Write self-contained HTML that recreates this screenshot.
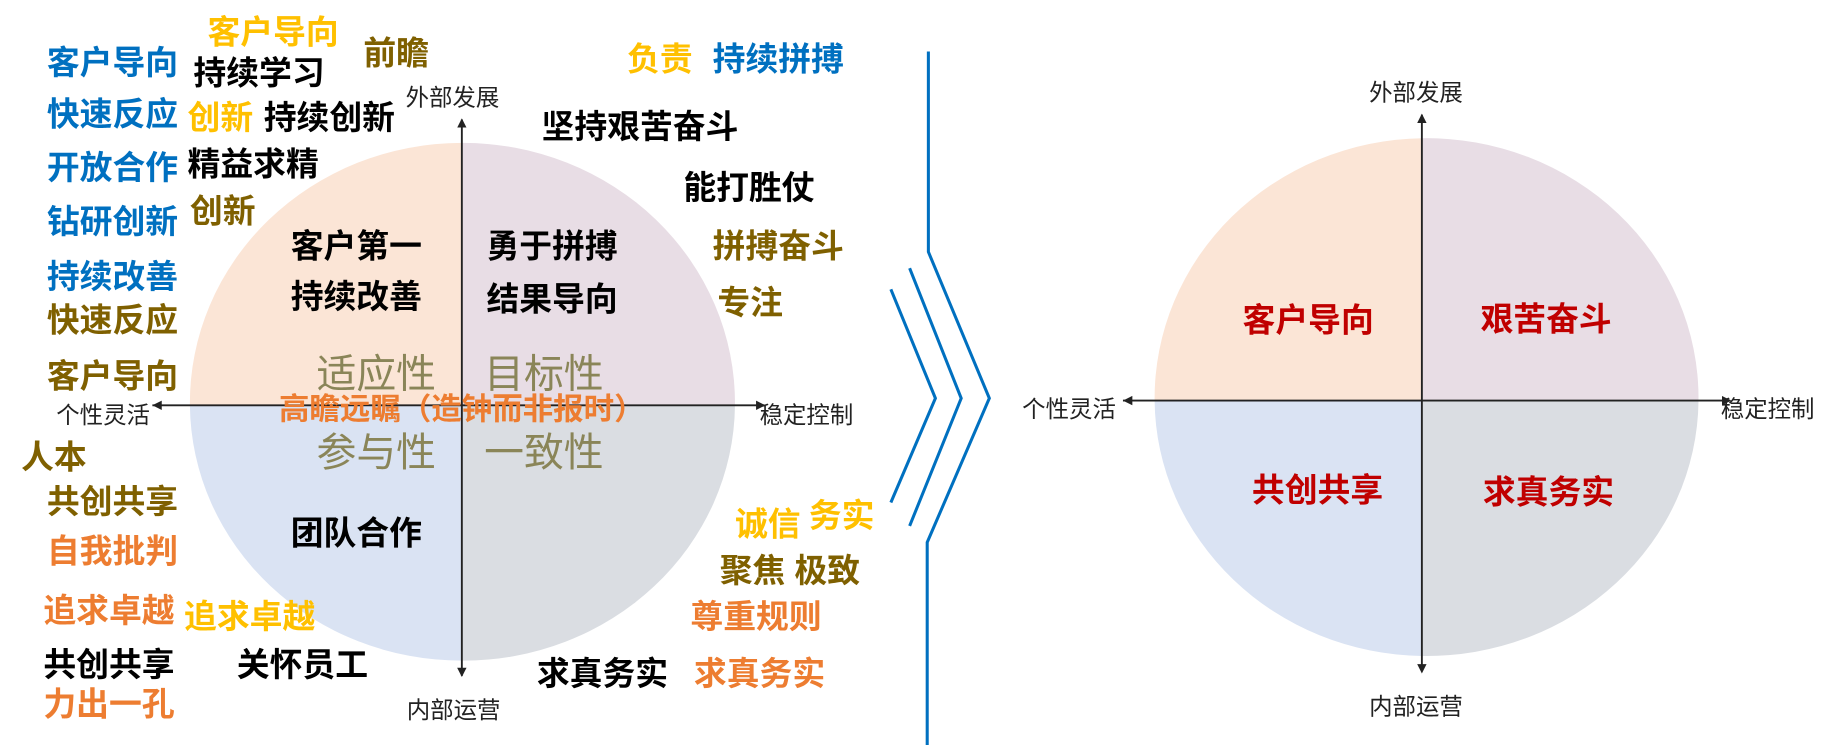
<!DOCTYPE html>
<html><head><meta charset="utf-8"><style>
html,body{margin:0;padding:0;background:#fff;}
svg{display:block;}
text{font-family:"Liberation Sans","Noto Sans CJK SC",sans-serif;}
.b{font-weight:bold;font-size:28px;}
.ax{font-size:20px;fill:#222;}
.big{font-size:34px;fill:#8a8558;}
.bl{fill:#0070C0}.gd{fill:#FFC000}.ol{fill:#7F6000}.k{fill:#000}.or{fill:#ED7D31}.rd{fill:#C00000}
</style></head><body>
<svg width="1838" height="745" viewBox="0 0 1568 636" preserveAspectRatio="none" xmlns="http://www.w3.org/2000/svg">
<defs>
<marker id="ar" markerWidth="8" markerHeight="8" refX="7" refY="4" orient="auto" markerUnits="userSpaceOnUse"><path d="M0,0 L8,4 L0,8 z" fill="#222"/></marker>
</defs>
<g>
<path d="M394,346 L394,122 A232,222 0 0 0 162,346 Z" fill="#FBE5D6"/>
<path d="M394,346 L394,122 A232,222 0 0 1 627,346 Z" fill="#E8DDE5"/>
<path d="M394,346 L162,346 A232,220 0 0 0 394,564 Z" fill="#DAE3F3"/>
<path d="M394,346 L627,346 A232,220 0 0 1 394,564 Z" fill="#DADDE2"/>
<line x1="394" y1="577" x2="394" y2="102" stroke="#222" stroke-width="1.6" marker-end="url(#ar)"/>
<path d="M390,570 L394,578 L398,570 z" fill="#222"/>
<line x1="130" y1="346" x2="652" y2="346" stroke="#222" stroke-width="1.6" marker-end="url(#ar)"/>
<path d="M138,342 L130,346 L138,350 z" fill="#222"/>
</g>
<g>
<path d="M1213,342 L1213,118 A232,222 0 0 0 985,342 Z" fill="#FBE5D6"/>
<path d="M1213,342 L1213,118 A232,222 0 0 1 1449,342 Z" fill="#E8DDE5"/>
<path d="M1213,342 L985,342 A232,220 0 0 0 1213,560 Z" fill="#DAE3F3"/>
<path d="M1213,342 L1449,342 A232,220 0 0 1 1213,560 Z" fill="#DADDE2"/>
<line x1="1213" y1="570" x2="1213" y2="98" stroke="#222" stroke-width="1.6" marker-end="url(#ar)"/>
<path d="M1209,567 L1213,575 L1217,567 z" fill="#222"/>
<line x1="958" y1="342" x2="1476" y2="342" stroke="#222" stroke-width="1.6" marker-end="url(#ar)"/>
<path d="M966,338 L958,342 L966,346 z" fill="#222"/>
</g>
<g fill="none" stroke="#0070C0" stroke-width="2.6">
<polyline points="792,44 792,215 844,340 791,463 791,636"/>
<polyline points="776,229 820,340 776,449"/>
<polyline points="760,247 798,340 760,429"/>
</g>
<text class="b gd" x="177" y="37">客户导向</text>
<text class="b bl" x="40" y="63">客户导向</text>
<text class="b k" x="165" y="72">持续学习</text>
<text class="b ol" x="310" y="55">前瞻</text>
<text class="b gd" x="535" y="60">负责</text>
<text class="b bl" x="608" y="60">持续拼搏</text>
<text class="b bl" x="40" y="107">快速反应</text>
<text class="b gd" x="160" y="110">创新</text>
<text class="b k" x="225" y="110">持续创新</text>
<text class="b k" x="462" y="118">坚持艰苦奋斗</text>
<text class="b bl" x="40" y="153">开放合作</text>
<text class="b k" x="160" y="150">精益求精</text>
<text class="b k" x="583" y="170">能打胜仗</text>
<text class="b bl" x="40" y="199">钻研创新</text>
<text class="b ol" x="162" y="190">创新</text>
<text class="b k" x="248" y="220">客户第一</text>
<text class="b k" x="415" y="220">勇于拼搏</text>
<text class="b ol" x="608" y="220">拼搏奋斗</text>
<text class="b bl" x="40" y="246">持续改善</text>
<text class="b k" x="248" y="263">持续改善</text>
<text class="b k" x="415" y="265">结果导向</text>
<text class="b ol" x="40" y="283">快速反应</text>
<text class="b ol" x="612" y="268">专注</text>
<text class="b ol" x="40" y="331">客户导向</text>
<text class="big" x="270" y="331">适应性</text>
<text class="big" x="413" y="331">目标性</text>
<text class="b or" x="238" y="358" style="font-size:26px">高瞻远瞩（造钟而非报时）</text>
<text class="ax" x="48" y="361">个性灵活</text>
<text class="ax" x="648" y="361">稳定控制</text>
<text class="big" x="270" y="398">参与性</text>
<text class="big" x="413" y="398">一致性</text>
<text class="b ol" x="18" y="400">人本</text>
<text class="b ol" x="40" y="438">共创共享</text>
<text class="b k" x="248" y="465">团队合作</text>
<text class="b gd" x="627" y="457">诚信</text>
<text class="b gd" x="690" y="450">务实</text>
<text class="b or" x="40" y="480">自我批判</text>
<text class="b ol" x="614" y="497">聚焦 极致</text>
<text class="b or" x="37" y="531">追求卓越</text>
<text class="b gd" x="157" y="536">追求卓越</text>
<text class="b or" x="589" y="536">尊重规则</text>
<text class="b k" x="37" y="577">共创共享</text>
<text class="b k" x="202" y="577">关怀员工</text>
<text class="b k" x="458" y="585">求真务实</text>
<text class="b or" x="592" y="585">求真务实</text>
<text class="b or" x="37" y="611">力出一孔</text>
<text class="ax" x="346" y="90">外部发展</text>
<text class="ax" x="347" y="613">内部运营</text>
<text class="ax" x="1168" y="86">外部发展</text>
<text class="ax" x="1168" y="610">内部运营</text>
<text class="ax" x="872" y="356">个性灵活</text>
<text class="ax" x="1468" y="356">稳定控制</text>
<text class="b rd" x="1060" y="283">客户导向</text>
<text class="b rd" x="1263" y="282">艰苦奋斗</text>
<text class="b rd" x="1068" y="428">共创共享</text>
<text class="b rd" x="1265" y="430">求真务实</text>
</svg>
</body></html>
